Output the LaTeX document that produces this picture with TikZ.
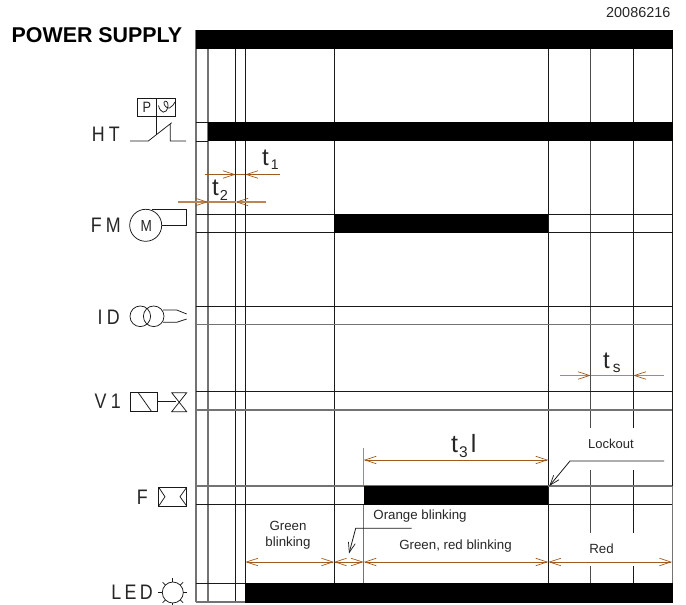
\documentclass[tikz,border=0pt]{standalone}
\usepackage{fontspec}
\setmainfont{Liberation Sans}
\usetikzlibrary{arrows.meta,calc}
\definecolor{dimc}{RGB}{160,90,30}
\definecolor{dimp}{RGB}{185,135,85}
\tikzset{
 thin line/.style={black!90,line width=0.8pt},
 gray line/.style={black!55,line width=1.1pt},
 mid line/.style={black!70,line width=0.9pt},
 dim/.style={dimc,line width=0.9pt},
 dimpale/.style={dimp,line width=1.1pt},
 barbend/.style={-{Straight Barb[length=11.5pt,width=7.5pt,line width=0.7pt,dimc]}},
 barb/.style={{Straight Barb[length=11.5pt,width=7.5pt,line width=0.7pt,dimc]}-{Straight Barb[length=11.5pt,width=7.5pt,line width=0.7pt,dimc]}},
 vee/.style={-{Straight Barb[length=10pt,width=7pt,line width=0.7pt]}},
 sym/.style={black!90,line width=0.75pt},
 lab/.style={inner sep=0pt,text=black!85},
 big/.style={lab,font=\fontsize{21}{21}\selectfont},
 tbig/.style={lab,anchor=base west,font=\fontsize{24}{24}\selectfont},
 small/.style={lab,font=\fontsize{13.3}{16.3}\selectfont,align=center},
 bar/.style={fill=black,draw=none},
}
\newcommand{\narrowtxt}[1]{\scalebox{0.85}[1]{#1}}
\begin{document}
\begin{tikzpicture}[x=1pt,y=-1pt]
\useasboundingbox (0,0) rectangle (686,605);
% verticals
\draw[gray line] (196,30)--(196,602);
\draw[gray line] (208,49)--(208,602);
\draw[thin line] (235.6,49)--(235.6,602);
\draw[thin line] (245.3,49)--(245.3,602);
\draw[thin line] (334,49)--(334,583);
\draw[thin line] (548.3,49)--(548.3,583);
\draw[mid line] (590.7,49)--(590.7,428) (590.7,470)--(590.7,533) (590.7,566)--(590.7,583);
\draw[thin line] (633.3,49)--(633.3,428) (633.3,470)--(633.3,533) (633.3,566)--(633.3,583);
\draw[thin line] (672.3,30)--(672.3,486);
\draw[gray line] (672.3,486)--(672.3,583);
\draw[dimpale] (363.7,448)--(363.7,486);
\draw[gray line] (363.7,505)--(363.7,583);
% horizontals
\draw[thin line] (196,122)--(208,122) (196,141)--(208,141);
\draw[thin line] (196,214.3)--(672,214.3) (196,232.7)--(672,232.7);
\draw[thin line] (196,306)--(672,306);
\draw[gray line] (196,324.7)--(672,324.7);
\draw[thin line] (196,391.3)--(672,391.3);
\draw[gray line] (196,410)--(672,410);
\draw[gray line] (196,486)--(672,486);
\draw[thin line] (196,504.7)--(672,504.7);
\draw[thin line] (196,583.3)--(245,583.3);
\draw[gray line] (196,602)--(245,602);
% bars
\fill[bar] (196,30) rectangle (672.5,49);
\fill[bar] (208,122) rectangle (672.5,141);
\fill[bar] (334,214.3) rectangle (548.3,232.7);
\fill[bar] (363.7,486) rectangle (548.3,504.7);
\fill[bar] (245.3,583.3) rectangle (672.5,602.5);
% texts
\node[inner sep=0pt,anchor=east,font=\fontsize{14.4}{15}\selectfont,text=black!85] (code) at (670.5,12.7) {20086216};
\node[inner sep=0pt,anchor=west,font=\bfseries\fontsize{21.4}{22}\selectfont,text=black] (ps) at (11.5,35) {POWER SUPPLY};
\node[big,anchor=east] (ht) at (120,134.5) {\narrowtxt{H\kern5ptT}};
\node[big,anchor=east] (fm) at (121,225.5) {\narrowtxt{F\kern5ptM}};
\node[big,anchor=east] (id) at (120,317) {\narrowtxt{I\kern5ptD}};
\node[big,anchor=east] (v1) at (121,401.5) {\narrowtxt{V\kern5pt1}};
\node[big,anchor=east] (f) at (148,497) {\narrowtxt{F}};
\node[big,anchor=east] (led) at (153,592.5) {\narrowtxt{L\kern4ptE\kern4ptD}};
% HT symbol
\draw[sym] (137.7,98) rectangle (175.3,116.7);
\draw[sym] (156.7,98)--(156.7,135);
\node[inner sep=0pt,font=\fontsize{15}{15}\selectfont,text=black!85] (p) at (147,107.3) {\narrowtxt{P}};
\draw[sym] (158.5,105.5) .. controls (160,113) and (166.5,115.5) .. (168,106) .. controls (168.5,101.5) and (165,99.5) .. (164,102.5) .. controls (163.5,105) and (167,109) .. (169.5,108) .. controls (172,107) and (174,104) .. (175,102);
\draw[sym] (130,141)--(148.3,141)--(171.7,122.7) (170.3,124)--(170.3,141)--(186,141);
% FM symbol
\draw[sym] (145.7,225.3) circle (16);
\node[inner sep=0pt,font=\fontsize{16}{16}\selectfont,text=black!85] (m) at (146.3,225.5) {\narrowtxt{M}};
\draw[sym] (151.7,209.3)--(186,209.3)--(186,225.3)--(161.7,225.3);
% ID symbol
\draw[sym] (140.3,316.3) circle (10.3) (153.7,316.3) circle (10.3);
\draw[sym] (163,310)--(176.7,310)--(186.7,314) (163,322.3)--(176.7,322.3)--(186.7,319);
% V1 symbol
\draw[sym] (130,392.7) rectangle (157.7,411.7);
\draw[sym] (138.3,392.7)--(151.7,411.7);
\draw[sym] (157.7,401.7)--(176,401.7);
\draw[sym] (171.7,392.7)--(186.7,392.7)--(171.7,411.7)--(186.7,411.7)--cycle;
% F symbol
\draw[sym] (158.7,487.3) rectangle (186.7,506);
\draw[sym] (158.7,487.3)--(165,496.7)--(158.7,506) (186.7,487.3)--(180,496.7)--(186.7,506);
% LED symbol
\draw[sym] (172.8,592.5) circle (10.5);
\foreach \a in {0,45,90,135,180,225,270,315}{\draw[sym] ($(172.8,592.5)+(\a:10.5)$) -- ($(172.8,592.5)+(\a:14.5)$);}
% t1
\draw[dim,barbend] (205,174.5)--(235.6,174.5);
\draw[dim,barbend] (280,174.5)--(245.3,174.5);
\draw[dim] (235.6,174.5)--(245.3,174.5);
\node[tbig] (t1) at (262,165) {t\kern2pt\raisebox{-4pt}{\fontsize{14}{14}\selectfont 1}};
% t2
\draw[dimpale,barbend] (178,202)--(208,202);
\draw[dimpale,barbend] (266,202)--(235.6,202);
\draw[dimpale] (208,202)--(235.6,202);
\node[tbig] (t2) at (212,195) {t\kern1pt\raisebox{-5pt}{\fontsize{14.5}{14.5}\selectfont 2}};
% ts
\draw[dimpale,barbend] (560,375.5)--(590.7,375.5);
\draw[dimpale,barbend] (664,375.5)--(633.3,375.5);
\draw[dimpale] (590.7,375.5)--(633.3,375.5);
\node[tbig] (ts) at (603,368) {t\kern3pt\raisebox{-4pt}{\fontsize{15.5}{15.5}\selectfont s}};
% t3
\draw[dim,barb] (363.7,460)--(548.3,460);
\node[tbig,font=\fontsize{25}{25}\selectfont] (t3) at (451,452) {t\kern1pt\raisebox{-5pt}{\fontsize{15.5}{15.5}\selectfont 3}\kern3ptl};
% bottom dims
\draw[dim,barb] (245.3,562)--(334,562);
\draw[dim,barb] (334,562)--(363.7,562);
\draw[dim,barb] (363.7,562)--(548.3,562);
\draw[dim,barb] (548.3,562)--(672,562);
\node[small] (gb) at (288,535) {Green\\blinking};
\node[small] (gr) at (455.5,546.5) {Green, red blinking};
\node[small] (red) at (601.5,549) {Red};
\node[small] (ob) at (420,516.5) {Orange blinking};
\node[small,font=\fontsize{13}{15}\selectfont] (lock) at (611,444) {Lockout};
% leaders
\coordinate (la) at (664,461);
\coordinate (lb) at (570,461);
\coordinate (lc) at (549.3,486);
\draw[thin line,vee] (la)--(lb)--(lc);
\coordinate (oa) at (411.7,528.3);
\coordinate (ob2) at (355.7,528.3);
\coordinate (oc) at (349,553.5);
\draw[thin line,vee] (oa)--(ob2)--(oc);
\end{tikzpicture}
\end{document}
